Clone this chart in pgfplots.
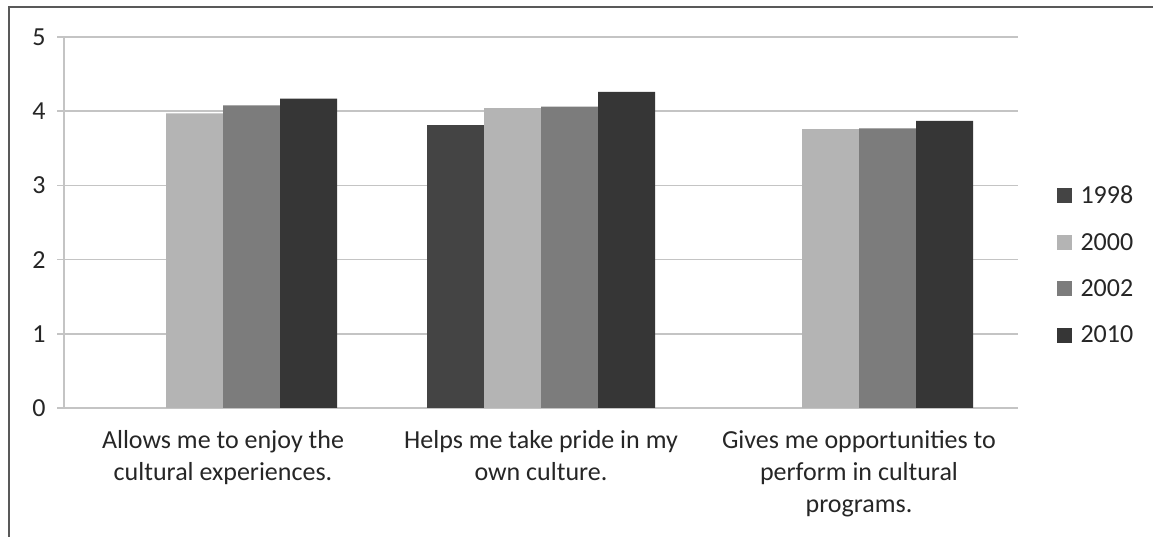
\documentclass[border=0pt]{standalone}
\usepackage{fontspec}
\setmainfont{Carlito}
\usepackage{pgfplots}
\pgfplotsset{compat=1.18}
\definecolor{cA}{HTML}{444444}
\definecolor{cB}{HTML}{B4B4B4}
\definecolor{cC}{HTML}{7C7C7C}
\definecolor{cD}{HTML}{363636}
\definecolor{txt}{HTML}{262626}
\definecolor{gridc}{HTML}{C4C4C4}
\begin{document}
\begin{tikzpicture}
\path[use as bounding box] (0,0) rectangle (1153bp,537bp);
\fill[white] (0,0) rectangle (1153bp,537bp);
\draw[line width=2bp, color=black!65] (9bp,-5bp) -- (9bp,530bp) -- (1170bp,530bp);
\begin{axis}[
  at={(64bp,129bp)}, anchor=south west,
  scale only axis, width=954bp, height=371bp,
  ybar=0pt, bar width=57bp,
  xmin=-0.5, xmax=2.5, ymin=0, ymax=5,
  ytick={0,1,2,3,4,5},
  xtick={0,1,2},
  xticklabels={{Allows me to enjoy the\\cultural experiences.},{Helps me take pride in my\\own culture.},{Gives me opportunities to\\perform in cultural\\programs.}},
  /pgf/number format/assume math mode=true,
  tick label style={font=\fontsize{26bp}{32bp}\selectfont, text=txt},
  xticklabel style={align=center, yshift=-12bp},
  yticklabel style={xshift=-8bp},
  ymajorgrids, grid style={gridc, line width=1.5bp},
  axis lines*=left,
  axis line style={gridc, line width=1.5bp, -},
  tick align=outside, major tick length=7bp,
  ytick style={gridc, line width=1.5bp},
  xtick style={draw=none},
  legend style={at={(1.037,0.385)}, anchor=west, draw=none, fill=none,
    font=\fontsize{26bp}{28bp}\selectfont, text=txt, row sep=26bp,
    nodes={inner sep=1bp},
    /tikz/every odd column/.append style={column sep=8bp}},
  legend cell align=left,
  legend image code/.code={\fill[#1] (0bp,-7.5bp) rectangle (15bp,7.5bp);},
]
\addplot[fill=cA, draw=none] coordinates {(1,3.81)};
\addplot[fill=cB, draw=none] coordinates {(0,3.97) (1,4.04) (2,3.76)};
\addplot[fill=cC, draw=none] coordinates {(0,4.08) (1,4.06) (2,3.77)};
\addplot[fill=cD, draw=none] coordinates {(0,4.17) (1,4.26) (2,3.87)};
\legend{1998,2000,2002,2010}
\end{axis}
\end{tikzpicture}
\end{document}
